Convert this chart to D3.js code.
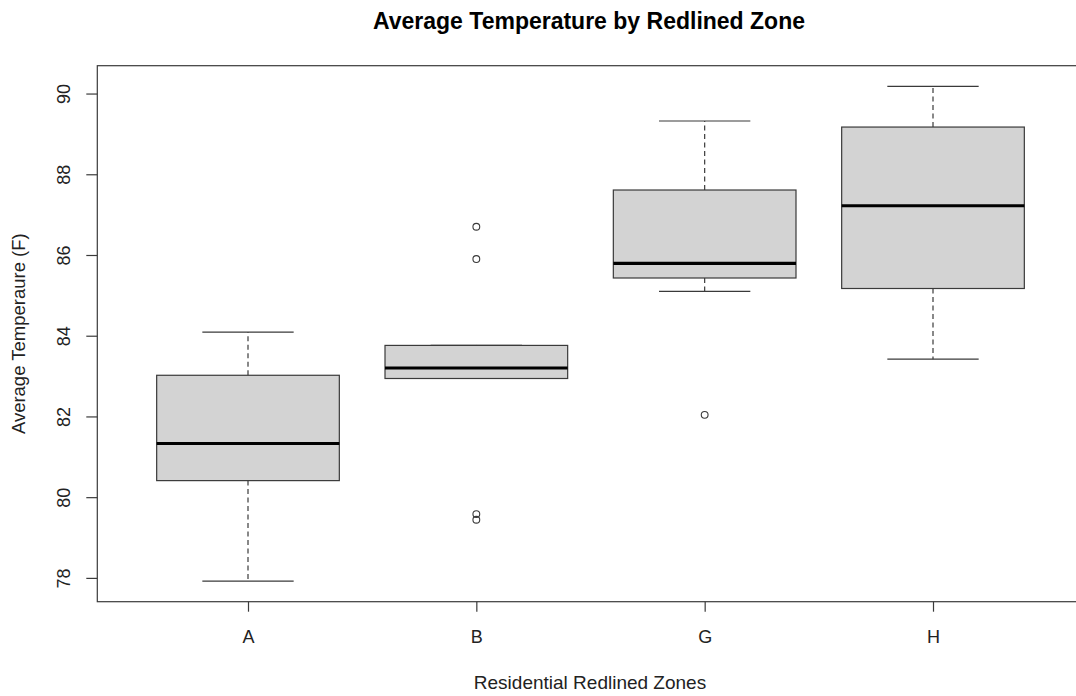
<!DOCTYPE html>
<html>
<head>
<meta charset="utf-8">
<script src="https://cdn.jsdelivr.net/npm/d3@7"></script>
<style>
  body { margin: 0; background: #fff; }
  svg { display: block; }
</style>
</head>
<body>
<div id="chart"></div>
<script>
// zones and five-number summaries
const zones = ["A", "B", "G", "H"];
const lowerWhisker = [77.92, 82.94, 85.10, 83.42];
const q1 = [80.41, 82.94, 85.43, 85.17];
const median = [81.33, 83.20, 85.79, 87.22];
const q3 = [83.02, 83.76, 87.61, 89.17];
const upperWhisker = [84.09, 83.76, 89.32, 90.18];
const outliers = [[], [86.70, 85.90, 79.58, 79.44], [82.04], []];
const yTicks = [78, 80, 82, 84, 86, 88, 90];

const W = 1076, H = 696;
const margin = {top: 65.7, left: 97.3, bottom: 601.7, right: 1083.7};
const font = "'Liberation Sans', Arial, sans-serif";

const svg = d3.select("#chart").append("svg")
    .attr("width", W)
    .attr("height", H)
    .style("font-family", font);

// R style: xlim 0.5..4.5 widened by 4%
const x = d3.scaleLinear().domain([0.34, 4.66]).range([margin.left, margin.right]);
const y = d3.scaleLinear().domain([77.41, 90.69]).range([margin.bottom, margin.top]);

const rows = zones.map((z, i) => ({
    zone: z, pos: i + 1,
    lo: lowerWhisker[i], q1: q1[i], med: median[i], q3: q3[i], hi: upperWhisker[i],
    out: outliers[i]
}));

const boxHalf = 0.4, capHalf = 0.2;
const stroke = "#3a3a3a";

let g = svg.append("g");

// whiskers (dashed)
g.selectAll("line.wu").data(rows).join("line")
    .attr("x1", d => x(d.pos)).attr("x2", d => x(d.pos))
    .attr("y1", d => y(d.q3)).attr("y2", d => y(d.hi))
    .attr("stroke", stroke).attr("stroke-width", 1.2).attr("stroke-dasharray", "5,3.5");
g.selectAll("line.wl").data(rows).join("line")
    .attr("x1", d => x(d.pos)).attr("x2", d => x(d.pos))
    .attr("y1", d => y(d.q1)).attr("y2", d => y(d.lo))
    .attr("stroke", stroke).attr("stroke-width", 1.2).attr("stroke-dasharray", "5,3.5");

// caps
["hi", "lo"].forEach(k => {
    g.append("g").selectAll("line").data(rows).join("line")
        .attr("x1", d => x(d.pos - capHalf)).attr("x2", d => x(d.pos + capHalf))
        .attr("y1", d => y(d[k])).attr("y2", d => y(d[k]))
        .attr("stroke", stroke).attr("stroke-width", 1.2);
});

// boxes
g.append("g").selectAll("rect").data(rows).join("rect")
    .attr("x", d => x(d.pos - boxHalf))
    .attr("width", d => x(d.pos + boxHalf) - x(d.pos - boxHalf))
    .attr("y", d => y(d.q3))
    .attr("height", d => y(d.q1) - y(d.q3))
    .attr("fill", "#d3d3d3")
    .attr("stroke", stroke).attr("stroke-width", 1.2);

// medians
g.append("g").selectAll("line").data(rows).join("line")
    .attr("x1", d => x(d.pos - boxHalf)).attr("x2", d => x(d.pos + boxHalf))
    .attr("y1", d => y(d.med)).attr("y2", d => y(d.med))
    .attr("stroke", "#000").attr("stroke-width", 3.2);

// outliers
g.append("g").selectAll("circle")
    .data(rows.flatMap(d => d.out.map(v => ({pos: d.pos, v}))))
    .join("circle")
    .attr("cx", d => x(d.pos)).attr("cy", d => y(d.v))
    .attr("r", 3.4)
    .attr("fill", "none").attr("stroke", stroke).attr("stroke-width", 1.1);

// frame
svg.append("rect")
    .attr("x", margin.left).attr("y", margin.top)
    .attr("width", margin.right - margin.left)
    .attr("height", margin.bottom - margin.top)
    .attr("fill", "none").attr("stroke", stroke).attr("stroke-width", 1.2);

// y axis
const yAxis = svg.append("g")
    .attr("transform", `translate(${margin.left},0)`)
    .call(d3.axisLeft(y).tickValues(yTicks).tickSize(11).tickFormat(d3.format("d")));
yAxis.select(".domain").remove();
yAxis.selectAll(".tick line").attr("stroke", stroke).attr("stroke-width", 1.2);
yAxis.selectAll(".tick text")
    .attr("x", null).attr("dy", null)
    .attr("text-anchor", "middle")
    .attr("transform", "translate(-34,0) rotate(-90)")
    .attr("dy", "0.35em")
    .attr("font-size", 18).attr("fill", "#222")
    .style("font-family", font);

// x axis
const xAxis = svg.append("g")
    .attr("transform", `translate(0,${margin.bottom})`)
    .call(d3.axisBottom(x).tickValues(rows.map(d => d.pos)).tickSize(10)
        .tickFormat((d, i) => zones[i]));
xAxis.select(".domain").remove();
xAxis.selectAll(".tick line").attr("stroke", stroke).attr("stroke-width", 1.2);
xAxis.selectAll(".tick text")
    .attr("y", 35).attr("dy", "0.35em")
    .attr("font-size", 18).attr("fill", "#222")
    .style("font-family", font);

// titles
svg.append("text")
    .attr("x", 589).attr("y", 29)
    .attr("text-anchor", "middle")
    .attr("font-size", 23).attr("font-weight", "bold")
    .text("Average Temperature by Redlined Zone");

svg.append("text")
    .attr("x", 590).attr("y", 689)
    .attr("text-anchor", "middle")
    .attr("font-size", 19).attr("fill", "#222")
    .text("Residential Redlined Zones");

svg.append("text")
    .attr("transform", `translate(25,${(margin.top + margin.bottom) / 2}) rotate(-90)`)
    .attr("text-anchor", "middle")
    .attr("font-size", 18.5).attr("fill", "#222")
    .text("Average Temperaure (F)");
</script>
</body>
</html>
